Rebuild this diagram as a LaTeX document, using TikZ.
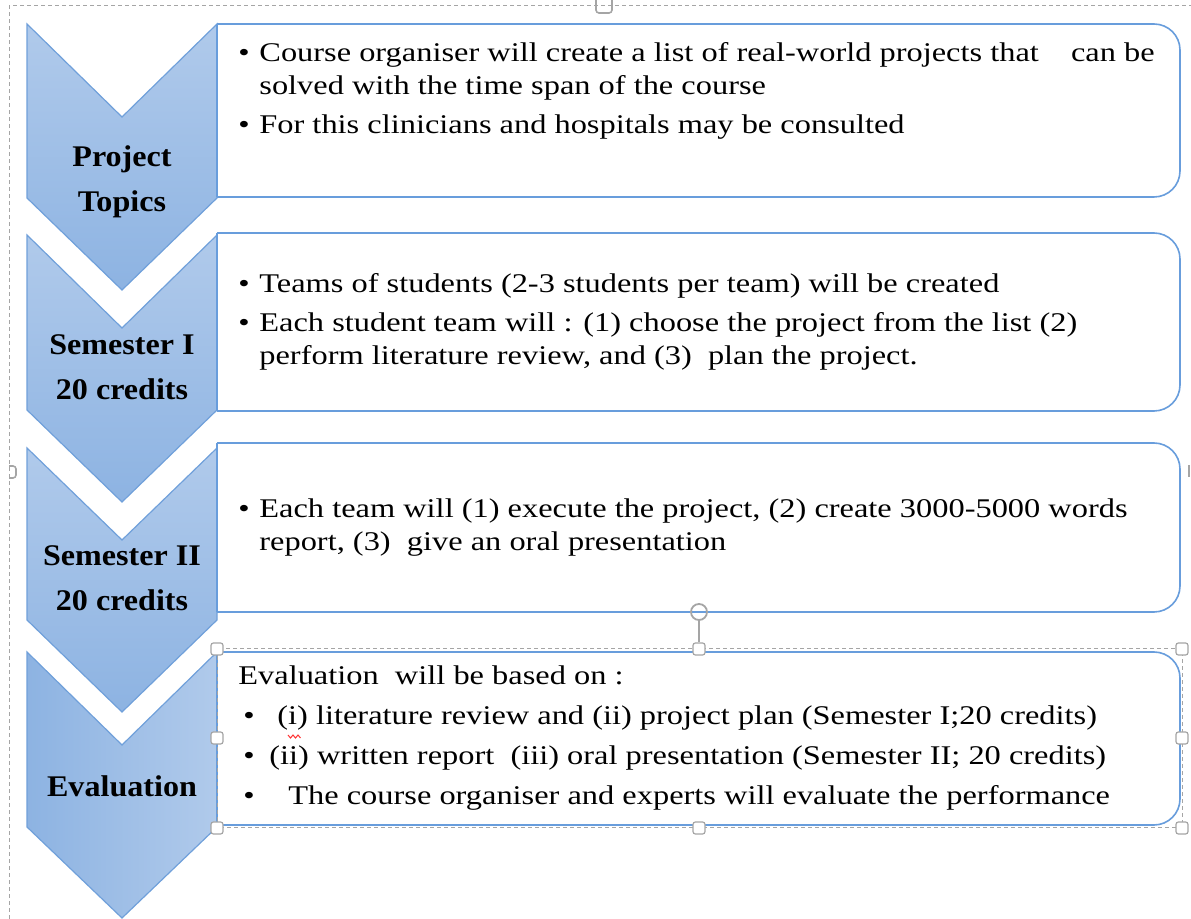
\documentclass[tikz,border=0pt]{standalone}
\usepackage{fontspec}
\setmainfont{Liberation Serif}[FakeStretch=1.2]
\newfontfamily\chevfont{Liberation Serif}[FakeStretch=1.07]

\definecolor{chevlight}{RGB}{176,202,235}
\definecolor{chevdark}{RGB}{141,179,226}
\definecolor{chevline}{RGB}{112,160,218}
\definecolor{boxline}{RGB}{104,157,220}
\definecolor{handlegray}{RGB}{165,165,165}

\newcommand\bul{\makebox[10.5pt][l]{\textbullet}}
\newcommand\cont{\hspace*{10.5pt}}
\newcommand\evbul{\hspace*{2.5pt}\makebox[13pt][l]{\textbullet}}

\begin{document}
\begin{tikzpicture}
  [x=0.5pt, y=-0.5pt,
   chevron/.style={draw=chevline, line width=0.6pt},
   chevtext/.style={align=center,
                    font=\chevfont\bfseries\fontsize{15}{22.5}\selectfont},
   boxnode/.style={rectangle,
                   minimum width=481.5pt,
                   inner sep=0pt, outer sep=0pt,
                   anchor=north west},
   boxframe/.style={draw=boxline, line width=0.8pt},
   boxtext/.style={anchor=west, align=left, inner sep=0pt,
                   font=\fontsize{13.5}{16.5}\selectfont},
   handle/.style={rectangle, draw=handlegray, fill=white,
                  line width=0.6pt, rounded corners=1.2pt,
                  minimum size=6pt, inner sep=0pt},
   selframe/.style={draw=handlegray, line width=0.5pt,
                    dash pattern=on 2pt off 1.5pt},]
  \useasboundingbox (0,0) rectangle (1191,919);

  %% outer selection frame
  \draw[selframe] (9,919) -- (9,6) -- (1191,6);
  \draw[handlegray, line width=0.8pt, rounded corners=1.5pt]
    (596,0) -- (596,13) -- (612,13) -- (612,0);
  \draw[handlegray, line width=0.8pt, rounded corners=1.5pt]
    (9,466) -- (16,466) -- (16,478) -- (9,478);
  \draw[handlegray, line width=0.8pt] (1189,465) -- (1189,477);

  %% chevrons
  \path[chevron, top color=chevlight, bottom color=chevdark]
    (27,24) -- (122,117) -- (217,24) -- (217,198) -- (122,290) -- (27,198) -- cycle;
  \path[chevron, top color=chevlight, bottom color=chevdark]
    (27,235) -- (122,328) -- (217,235) -- (217,410) -- (122,502) -- (27,410) -- cycle;
  \path[chevron, top color=chevlight, bottom color=chevdark]
    (27,448) -- (122,540) -- (217,448) -- (217,620) -- (122,712) -- (27,620) -- cycle;
  \path[chevron, left color=chevdark, right color=chevlight]
    (27,652) -- (122,745) -- (217,652) -- (217,827) -- (122,918) -- (27,827) -- cycle;

  \node[chevtext] (topics) at (122,182) {Project\\Topics};
  \node[chevtext] (sem1)   at (122,367) {Semester I\\20 credits};
  \node[chevtext] (sem2)   at (122,578) {Semester II\\20 credits};
  \node[chevtext] (eval)   at (122,786) {Evaluation};

  %% boxes
  \node[boxnode, minimum height=86.5pt] (topicsbox) at (217,24)  {};
  \node[boxnode, minimum height=89pt]   (sem1box)   at (217,233) {};
  \node[boxnode, minimum height=84.5pt] (sem2box)   at (217,443) {};
  \node[boxnode, minimum height=86.5pt] (evalbox)   at (217,652) {};
  \foreach \b in {topicsbox,sem1box,sem2box,evalbox}{
    \draw[boxframe, rounded corners=13pt]
      (\b.north west) -- (\b.north east) -- (\b.south east) -- (\b.south west);
    \draw[boxframe] (\b.north west) -- (\b.south west);
  }

  \node[boxtext, yshift=9.75pt] (topicstext) at ([xshift=10.5pt]topicsbox.west)
    {\bul Course organiser will create a list of real-world projects that\hspace{12pt} can be\\
     \cont solved with the time span of the course\\[3pt]
     \bul For this clinicians and hospitals may be consulted};
  \node[boxtext] (sem1text) at ([xshift=10.5pt]sem1box.west)
    {\bul Teams of students (2-3 students per team) will be created\\[3pt]
     \bul Each student team will : (1) choose the project from the list (2)\\
     \cont perform literature review, and (3)\ \ plan the project.};
  \node[boxtext] (sem2text) at ([xshift=10.5pt]sem2box.west)
    {\bul Each team will (1) execute the project, (2) create 3000-5000 words\\
     \cont report, (3)\ \ give an oral presentation};
  \node[boxtext] (evaltext) at ([xshift=10.5pt]evalbox.west)
    {Evaluation\ \ will be based on :\\[3.5pt]
     \evbul\hspace*{4pt}(i) literature review and (ii) project plan (Semester I;20 credits)\\[3.5pt]
     \evbul(ii) written report\ \ (iii) oral presentation (Semester II; 20 credits)\\[3.5pt]
     \evbul\hspace*{9.5pt}The course organiser and experts will evaluate the performance};
  \draw[red!80, line width=0.5pt]
    (288,735) -- (290.5,738) -- (293,735) -- (295.5,738) -- (298,735) -- (300.5,738);

  %% selection handles of the last box
  \draw[selframe] (217,649) rectangle (1182,828);
  \foreach \p [count=\i] in {(217,649),(699,649),(1182,649),(217,738),
                             (1182,738),(217,828),(699,828),(1182,828)}
    \node[handle] (h\i) at \p {};
  \node[circle, draw=handlegray, line width=0.9pt, minimum size=8pt, inner sep=0pt]
    (rot) at (699,612) {};
  \draw[handlegray, line width=0.6pt] (rot) -- (h2);
\end{tikzpicture}
\end{document}
